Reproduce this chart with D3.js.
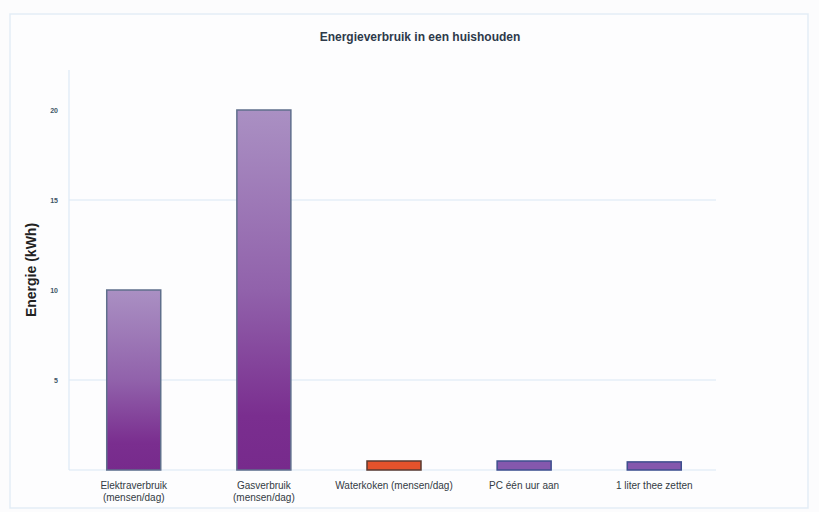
<!DOCTYPE html>
<html>
<head>
<meta charset="utf-8">
<script src="https://cdn.jsdelivr.net/npm/d3@7"></script>
<style>
  body { margin: 0; background: #fcfcfd; }
  svg { display: block; font-family: "Liberation Sans", Arial, sans-serif; }
</style>
</head>
<body>
<div id="chart"></div>
<script>
// Data
const categories = [
  "Elektraverbruik|(mensen/dag)",
  "Gasverbruik|(mensen/dag)",
  "Waterkoken (mensen/dag)",
  "PC één uur aan",
  "1 liter thee zetten"
];
const values = [10, 20, 0.5, 0.5, 0.45];
const barKinds = ["gradient", "gradient", "orange", "violet", "violet"];
const yTicks = [5, 10, 15, 20];
const gridTicks = [5, 15];
const chartTitle = "Energieverbruik in een huishouden";
const yTitle = "Energie (kWh)";

const W = 819, H = 512;
const margin = { top: 70, right: 100, bottom: 42, left: 69 };

const svg = d3.select("#chart").append("svg")
  .attr("width", W).attr("height", H);

// outer frame
svg.append("rect")
  .attr("x", 10).attr("y", 14).attr("width", 798).attr("height", 494)
  .attr("fill", "#fdfdfe").attr("stroke", "#e3edf6").attr("stroke-width", 1.5);

const defs = svg.append("defs");
const grad = defs.append("linearGradient")
  .attr("id", "purpleGrad").attr("x1", 0).attr("y1", 0).attr("x2", 0).attr("y2", 1);
grad.append("stop").attr("offset", "0%").attr("stop-color", "#aa90c3");
grad.append("stop").attr("offset", "50%").attr("stop-color", "#9162ab");
grad.append("stop").attr("offset", "85%").attr("stop-color", "#7a2e8f");
grad.append("stop").attr("offset", "100%").attr("stop-color", "#772a8c");

const x = d3.scaleBand()
  .domain(categories)
  .range([margin.left, margin.left + 650])
  .paddingInner(0.585).paddingOuter(0.29);

const y = d3.scaleLinear()
  .domain([0, 20])
  .range([470, 110]);

// gridlines
svg.append("g").selectAll("line")
  .data(gridTicks).join("line")
  .attr("x1", margin.left).attr("x2", 716)
  .attr("y1", d => y(d)).attr("y2", d => y(d))
  .attr("stroke", "#d9e7f4").attr("stroke-width", 1.2);

// y axis
const yAxis = d3.axisLeft(y).tickValues(yTicks).tickSize(0).tickPadding(11);
const gy = svg.append("g")
  .attr("transform", `translate(${margin.left},0)`)
  .call(yAxis);
gy.select(".domain").remove();
gy.selectAll("text").attr("font-size", 7).attr("fill", "#3d5566").attr("font-weight", "bold");
svg.append("line")
  .attr("x1", margin.left).attr("x2", margin.left)
  .attr("y1", 70).attr("y2", 470)
  .attr("stroke", "#dde9f5").attr("stroke-width", 1.2);

// x axis baseline
svg.append("line")
  .attr("x1", margin.left).attr("x2", 716)
  .attr("y1", y(0)).attr("y2", y(0))
  .attr("stroke", "#d9e7f4").attr("stroke-width", 1.2);

// bars
const fills = { gradient: "url(#purpleGrad)", orange: "#e4522b", violet: "#8458ad" };
const strokes = { gradient: "#5f6f8c", orange: "#5a3a30", violet: "#3e4f8e" };
svg.append("g").selectAll("rect")
  .data(values).join("rect")
  .attr("x", (d, i) => x(categories[i]))
  .attr("width", x.bandwidth())
  .attr("y", d => y(d))
  .attr("height", d => y(0) - y(d))
  .attr("fill", (d, i) => fills[barKinds[i]])
  .attr("stroke", (d, i) => strokes[barKinds[i]])
  .attr("stroke-width", 1.5);

// x labels
const xl = svg.append("g").selectAll("text")
  .data(categories).join("text")
  .attr("x", d => x(d) + x.bandwidth() / 2)
  .attr("y", 489)
  .attr("text-anchor", "middle")
  .attr("font-size", 10)
  .attr("fill", "#333b44");
xl.each(function(d) {
  const parts = d.split("|");
  parts.forEach((p, k) => {
    d3.select(this).append("tspan")
      .attr("x", d3.select(this).attr("x"))
      .attr("dy", k === 0 ? 0 : 12)
      .text(p);
  });
});

// titles
svg.append("text")
  .attr("x", 420).attr("y", 41)
  .attr("text-anchor", "middle")
  .attr("font-size", 12).attr("font-weight", "bold")
  .attr("fill", "#2e3a4a")
  .text(chartTitle);

svg.append("text")
  .attr("transform", "translate(36,270) rotate(-90)")
  .attr("text-anchor", "middle")
  .attr("font-size", 14).attr("font-weight", "bold")
  .attr("fill", "#222")
  .text(yTitle);
</script>
</body>
</html>
